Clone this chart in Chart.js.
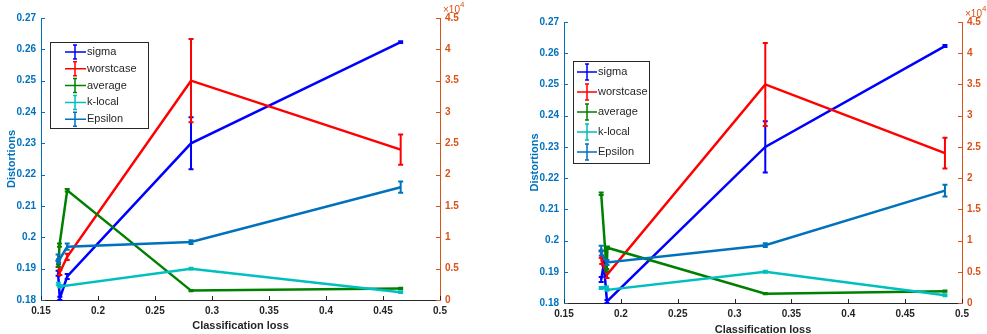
<!DOCTYPE html>
<html>
<head>
<meta charset="utf-8">
<script src="https://cdn.jsdelivr.net/npm/chart.js@4"></script>
<style>
	html, body { margin: 0; padding: 0; background: #fff; }
	#wrap { position: relative; width: 987px; height: 334px; }
	.panel { position: absolute; top: 0; }
</style>
</head>
<body>
<div id="wrap">
	<div class="panel" style="left:0"><canvas id="leftPlot" width="493" height="334"></canvas></div>
	<div class="panel" style="left:493px"><canvas id="rightPlot" width="494" height="334"></canvas></div>
</div>
<script>
// series names (legend order)
const seriesNames = ["sigma", "worstcase", "average", "k-local", "Epsilon"];

// left panel: classification loss (x), distortion (y), error (+/-)
const leftLoss = [
	[0.1650, 0.1665, 0.1730, 0.2816, 0.4655],
	[0.1650, 0.1665, 0.1730, 0.2816, 0.4655],
	[0.1653, 0.1662, 0.1730, 0.2816, 0.4655],
	[0.1652, 0.1665, 0.1670, 0.2816, 0.4655],
	[0.1650, 0.1655, 0.1730, 0.2816, 0.4655]
];
const leftDist = [
	[0.1885, 0.1805, 0.1875, 0.2300, 0.2623],
	[0.1915, 0.1888, 0.1938, 0.2500, 0.2280],
	[0.1910, 0.1975, 0.2150, 0.1830, 0.1837],
	[0.1851, 0.1845, 0.1843, 0.1900, 0.1825],
	[0.1935, 0.1925, 0.1970, 0.1985, 0.2160]
];
const leftErr = [
	[0.0008, 0.0005, 0.0008, 0.0083, 0.0003],
	[0.0010, 0.0008, 0.0010, 0.0133, 0.0048],
	[0.0004, 0.0005, 0.0004, 0.0002, 0.0002],
	[0.0004, 0.0003, 0.0003, 0.0003, 0.0003],
	[0.0010, 0.0006, 0.0010, 0.0006, 0.0018]
];

// right panel
const rightLoss = [
	[0.1827, 0.1850, 0.1878, 0.3270, 0.4850],
	[0.1827, 0.1832, 0.1878, 0.3270, 0.4850],
	[0.1827, 0.1875, 0.1882, 0.3270, 0.4850],
	[0.1827, 0.1873, 0.1878, 0.3270, 0.4850],
	[0.1827, 0.1828, 0.1878, 0.3270, 0.4850]
];
const rightDist = [
	[0.1875, 0.1925, 0.1805, 0.2300, 0.2623],
	[0.1955, 0.1935, 0.1890, 0.2500, 0.2280],
	[0.2150, 0.1905, 0.1977, 0.1830, 0.1838],
	[0.1848, 0.1851, 0.1842, 0.1900, 0.1825],
	[0.1975, 0.1960, 0.1930, 0.1985, 0.2160]
];
const rightErr = [
	[0.0008, 0.0005, 0.0005, 0.0082, 0.0003],
	[0.0010, 0.0010, 0.0010, 0.0133, 0.0049],
	[0.0004, 0.0004, 0.0004, 0.0002, 0.0002],
	[0.0003, 0.0003, 0.0003, 0.0003, 0.0003],
	[0.0008, 0.0008, 0.0008, 0.0006, 0.0019]
];

// axis limits / ticks
const lossTicks = { min: 0.15, max: 0.5, step: 0.05 };
const distTicks = { min: 0.18, max: 0.27, step: 0.01 };
const countTicks = { min: 0, max: 45000, step: 5000 };

const lineColors = ["#0000ff", "#ff0000", "#008000", "#00bfbf", "#0072bd"];
const leftAxisColor = "#0072bd";
const rightAxisColor = "#d95319";
const axisColor = "#262626";

Chart.defaults.font.family = "'Liberation Sans', Arial, Helvetica, sans-serif";

// error bars, drawn right after each line so the stacking follows the lines
const errorBars = {
	id: "errorBars",
	afterDatasetDraw(chart, args) {
		const ds = chart.data.datasets[args.index];
		if (!ds.yErr) return;
		const ctx = chart.ctx;
		const xs = chart.scales.x, ys = chart.scales.y;
		ctx.save();
		ctx.strokeStyle = ds.borderColor;
		ctx.lineWidth = 2;
		ds.data.forEach((p, i) => {
			const px = xs.getPixelForValue(p.x);
			const top = ys.getPixelForValue(p.y + ds.yErr[i]);
			const bot = ys.getPixelForValue(p.y - ds.yErr[i]);
			ctx.beginPath();
			ctx.moveTo(px, top); ctx.lineTo(px, bot);
			ctx.moveTo(px - 2.5, top); ctx.lineTo(px + 2.5, top);
			ctx.moveTo(px - 2.5, bot); ctx.lineTo(px + 2.5, bot);
			ctx.stroke();
		});
		ctx.restore();
	}
};

// inward tick marks, exponent label and the boxed legend
const decorations = {
	id: "decorations",
	afterDraw(chart, args, opts) {
		const ctx = chart.ctx, a = chart.chartArea;
		const xs = chart.scales.x, ys = chart.scales.y, y2 = chart.scales.y2;
		ctx.save();
		ctx.lineWidth = 1;
		ctx.strokeStyle = axisColor;
		xs.ticks.forEach(t => {
			const px = Math.round(xs.getPixelForValue(t.value)) + 0.5;
			ctx.beginPath(); ctx.moveTo(px, a.bottom); ctx.lineTo(px, a.bottom - 4); ctx.stroke();
		});
		ctx.strokeStyle = leftAxisColor;
		ys.ticks.forEach(t => {
			const py = Math.round(ys.getPixelForValue(t.value)) + 0.5;
			ctx.beginPath(); ctx.moveTo(a.left, py); ctx.lineTo(a.left + 4, py); ctx.stroke();
		});
		ctx.strokeStyle = rightAxisColor;
		y2.ticks.forEach(t => {
			const py = Math.round(y2.getPixelForValue(t.value)) + 0.5;
			ctx.beginPath(); ctx.moveTo(a.right, py); ctx.lineTo(a.right - 4, py); ctx.stroke();
		});

		// x10^4
		ctx.fillStyle = rightAxisColor;
		ctx.textBaseline = "middle";
		ctx.textAlign = "left";
		ctx.font = "10px 'Liberation Sans', Arial, sans-serif";
		ctx.fillText("\u00d710", a.right + 3, a.top - 8);
		const w = ctx.measureText("\u00d710").width;
		ctx.font = "8px 'Liberation Sans', Arial, sans-serif";
		ctx.fillText("4", a.right + 3 + w, a.top - 13);

		// legend
		const L = opts;
		ctx.fillStyle = "#fff";
		ctx.fillRect(L.left, L.top, L.width, L.height);
		ctx.strokeStyle = axisColor;
		ctx.lineWidth = 1;
		ctx.strokeRect(L.left + 0.5, L.top + 0.5, L.width, L.height);
		ctx.font = "11px 'Liberation Sans', Arial, sans-serif";
		seriesNames.forEach((name, i) => {
			const cy = L.top + L.first + i * L.gap;
			ctx.strokeStyle = lineColors[i];
			ctx.lineWidth = 1.5;
			ctx.beginPath();
			ctx.moveTo(L.left + L.lineStart, cy); ctx.lineTo(L.left + L.lineEnd, cy);
			const bx = L.left + L.barX;
			ctx.moveTo(bx, cy - L.barHalf); ctx.lineTo(bx, cy + L.barHalf);
			ctx.moveTo(bx - 2, cy - L.barHalf); ctx.lineTo(bx + 2, cy - L.barHalf);
			ctx.moveTo(bx - 2, cy + L.barHalf); ctx.lineTo(bx + 2, cy + L.barHalf);
			ctx.stroke();
			ctx.fillStyle = axisColor;
			ctx.fillText(name, L.left + L.lineEnd + 1, cy);
		});
		ctx.restore();
	}
};

function buildDatasets(loss, dist, err) {
	return seriesNames.map((name, i) => ({
		label: name,
		data: loss[i].map((x, j) => ({ x: x, y: dist[i][j] })),
		yErr: err[i],
		borderColor: lineColors[i],
		backgroundColor: lineColors[i],
		borderWidth: 2.5,
		showLine: true,
		pointRadius: 0,
		order: seriesNames.length - i,
		yAxisID: "y"
	}));
}

function makePanel(canvasId, loss, dist, err, g) {
	return new Chart(document.getElementById(canvasId), {
		type: "scatter",
		data: { datasets: buildDatasets(loss, dist, err) },
		options: {
			responsive: false,
			animation: false,
			layout: { padding: { top: g.padTop, left: 0, right: 0, bottom: 0 } },
			plugins: {
				legend: { display: false },
				tooltip: { enabled: false },
				decorations: g.legend
			},
			scales: {
				x: {
					type: "linear",
					min: lossTicks.min, max: lossTicks.max,
					grid: { display: false, drawTicks: false },
					border: { display: true, color: axisColor, width: 1 },
					ticks: {
						stepSize: lossTicks.step, padding: 5, color: axisColor,
						font: { size: 10, weight: "bold" },
						callback: v => String(parseFloat(v.toFixed(2)))
					},
					title: {
						display: true, text: "Classification loss", color: axisColor,
						font: { size: 11, weight: "bold", lineHeight: g.xTitleLH },
						padding: { top: 0, bottom: g.xTitlePad }
					},
					afterFit: s => { s.height = g.xHeight; }
				},
				y: {
					position: "left",
					min: distTicks.min, max: distTicks.max,
					grid: { display: false, drawTicks: false },
					border: { display: true, color: leftAxisColor, width: 1 },
					ticks: {
						stepSize: distTicks.step, padding: 5, color: leftAxisColor,
						font: { size: 10, weight: "bold" },
						callback: v => String(parseFloat(v.toFixed(2)))
					},
					title: {
						display: true, text: "Distortions", color: leftAxisColor,
						font: { size: 11, weight: "bold", lineHeight: 1.2 },
						padding: { top: g.yTitlePad, bottom: 0 }
					},
					afterFit: s => { s.width = g.yWidth; }
				},
				y2: {
					position: "right",
					min: countTicks.min, max: countTicks.max,
					grid: { display: false, drawTicks: false },
					border: { display: true, color: rightAxisColor, width: 1 },
					ticks: {
						stepSize: countTicks.step, padding: 5, color: rightAxisColor,
						font: { size: 10, weight: "bold" },
						callback: v => String(parseFloat((v / 1e4).toFixed(1)))
					},
					afterFit: s => { s.width = g.y2Width; }
				}
			}
		},
		plugins: [errorBars, decorations]
	});
}

makePanel("leftPlot", leftLoss, leftDist, leftErr, {
	padTop: 18, xHeight: 34, yWidth: 41, y2Width: 53, yTitlePad: 5, xTitlePad: 1, xTitleLH: 1.2,
	legend: { left: 50, top: 42, width: 98, height: 86, first: 10, gap: 16.8,
		lineStart: 15, lineEnd: 36, barX: 25, barHalf: 7 }
});

makePanel("rightPlot", rightLoss, rightDist, rightErr, {
	padTop: 22, xHeight: 31, yWidth: 71, y2Width: 25, yTitlePad: 35, xTitlePad: 0, xTitleLH: 0.8,
	legend: { left: 80, top: 61, width: 76, height: 102, first: 11, gap: 20,
		lineStart: 4, lineEnd: 24, barX: 14, barHalf: 8 }
});
</script>
</body>
</html>
